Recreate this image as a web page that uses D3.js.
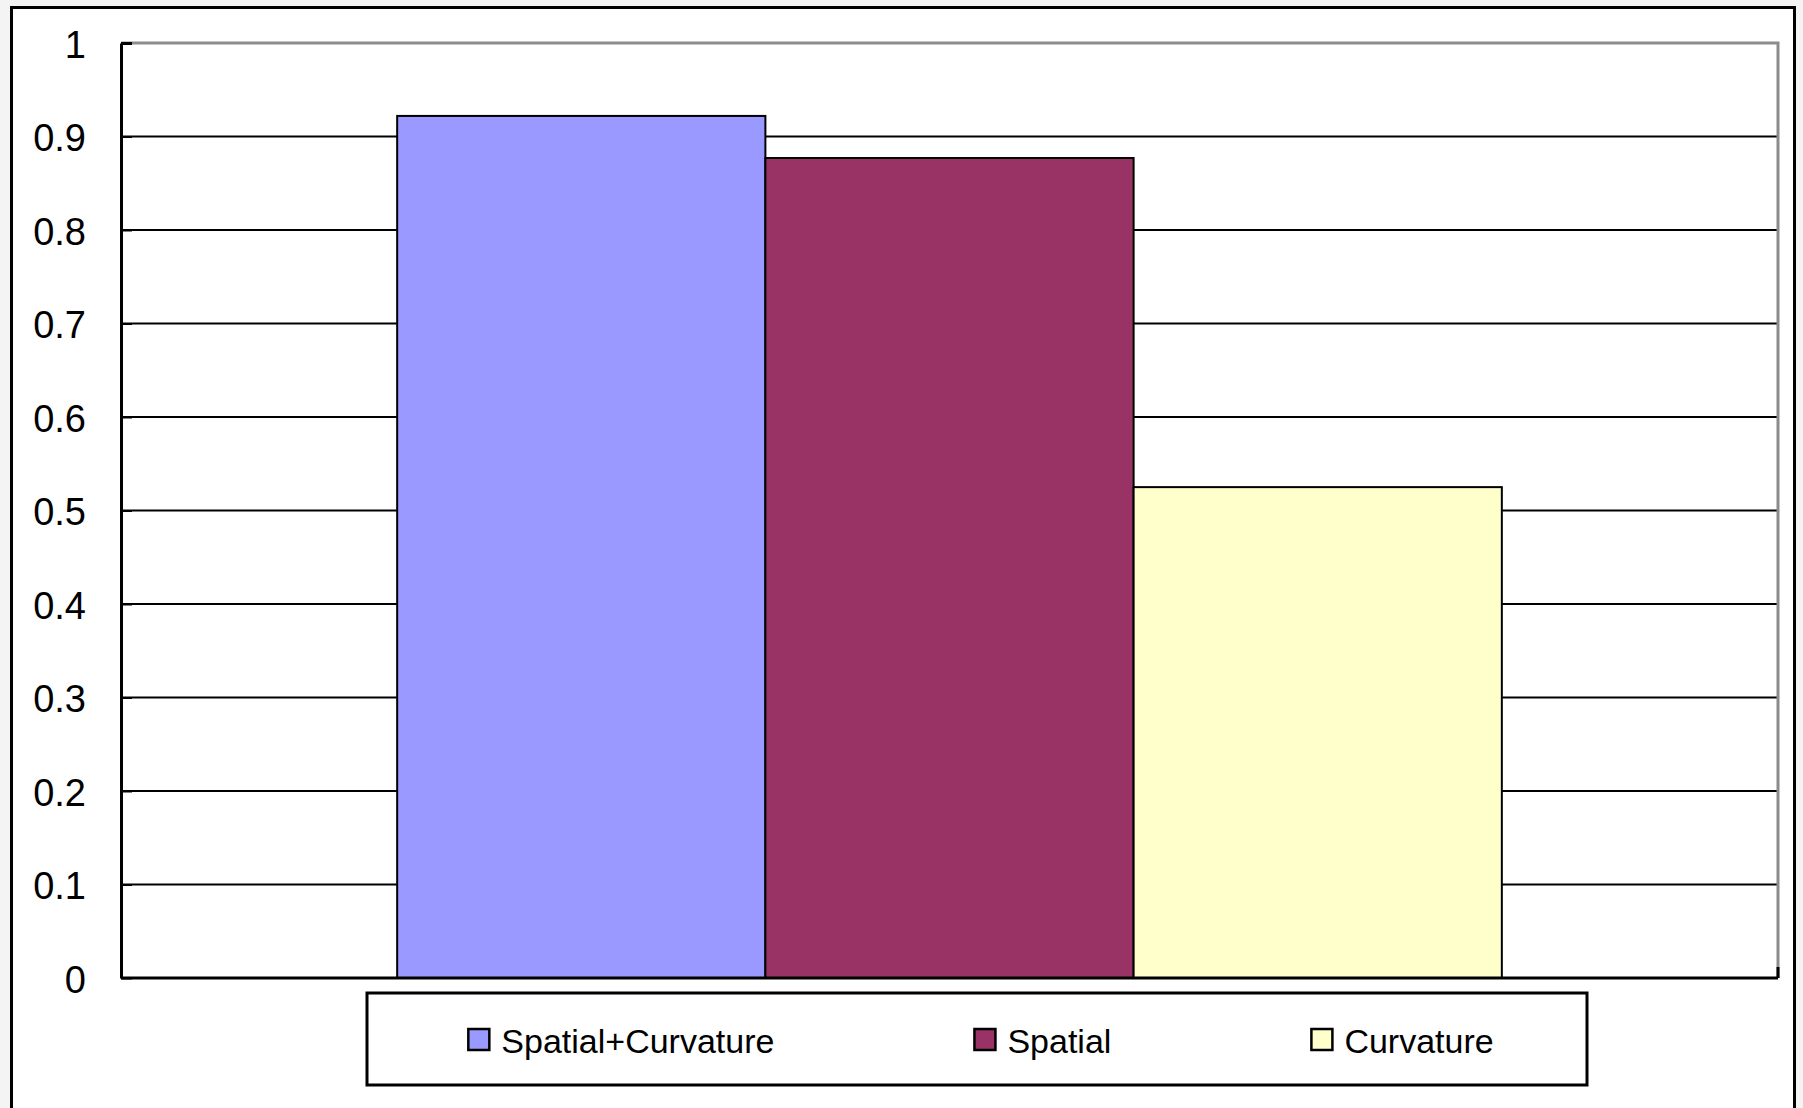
<!DOCTYPE html>
<html>
<head>
<meta charset="utf-8">
<script src="https://cdn.jsdelivr.net/npm/d3@7"></script>
<style>
  body { margin: 0; background: #f4f4f4; }
  svg { display: block; }
  text { font-family: "Liberation Sans", Arial, sans-serif; fill: #000; }
</style>
</head>
<body>
<svg width="1803" height="1108"></svg>
<script>
// ---- Dados
const series = ['Spatial+Curvature', 'Spatial', 'Curvature'];
const values = [0.922, 0.877, 0.525];
const colors = ['#9999FF', '#993366', '#FFFFCC'];
const yTicks = [0, 0.1, 0.2, 0.3, 0.4, 0.5, 0.6, 0.7, 0.8, 0.9, 1];

const svg = d3.select('svg');
const width = +svg.attr('width');
const height = +svg.attr('height');

const margens = { left: 121, right: 25, top: 43, bottom: 130 };
const innerWidth = width - margens.left - margens.right;
const innerHeight = height - margens.top - margens.bottom;

// ---- Moldura externa
svg.append('rect')
    .attr('x', 11.5).attr('y', 7.5)
    .attr('width', 1783).attr('height', 1120)
    .attr('fill', '#fff')
    .attr('stroke', '#000')
    .attr('stroke-width', 3);

const g = svg.append('g')
    .attr('transform', `translate(${margens.left}, ${margens.top})`);

// ---- Escalas
const mapX = d3.scaleBand()
    .domain(series)
    .range([0, innerWidth])
    .paddingInner(0)
    .paddingOuter(0.75);

const mapY = d3.scaleLinear()
    .domain([0, 1])
    .range([innerHeight, 0]);

// ---- Grade
g.selectAll('.grade')
    .data(yTicks.filter(d => d > 0 && d < 1))
    .enter()
    .append('line')
    .attr('x1', 0).attr('x2', innerWidth)
    .attr('y1', d => mapY(d)).attr('y2', d => mapY(d))
    .attr('stroke', '#000')
    .attr('stroke-width', 2);

// borda superior e direita (cinza)
g.append('path')
    .attr('d', `M0,${mapY(1)}H${innerWidth}V${innerHeight}`)
    .attr('fill', 'none')
    .attr('stroke', '#8c8c8c')
    .attr('stroke-width', 3);

// ---- Barras
g.selectAll('.barra')
    .data(values)
    .enter()
    .append('rect')
    .attr('class', 'barra')
    .attr('x', (d, i) => mapX(series[i]))
    .attr('y', d => mapY(d))
    .attr('width', mapX.bandwidth())
    .attr('height', d => innerHeight - mapY(d))
    .attr('fill', (d, i) => colors[i])
    .attr('stroke', '#000')
    .attr('stroke-width', 2);

// ---- Eixos
const eixoY = d3.axisLeft(mapY)
    .tickValues(yTicks)
    .tickSizeInner(-11)
    .tickSizeOuter(0)
    .tickPadding(35)
    .tickFormat(d3.format('~g'));

const gy = g.append('g').call(eixoY);
gy.select('.domain').attr('stroke-width', 3);
gy.selectAll('line').attr('stroke-width', d => d === 1 ? 3 : 2);
gy.selectAll('text')
    .attr('dy', '0.38em')
    .style('font-size', '38px')
    .style('font-family', '"Liberation Sans", Arial, sans-serif');

const gx = g.append('g')
    .attr('transform', `translate(0, ${innerHeight})`);
gx.append('line')
    .attr('x1', 0).attr('x2', innerWidth)
    .attr('y1', 0).attr('y2', 0)
    .attr('stroke', '#000').attr('stroke-width', 3);
gx.append('line')
    .attr('x1', innerWidth).attr('x2', innerWidth)
    .attr('y1', -11).attr('y2', 0)
    .attr('stroke', '#000').attr('stroke-width', 3);

// ---- Legenda
const legX = 367, legY = 993, legW = 1220, legH = 92;
svg.append('rect')
    .attr('x', legX).attr('y', legY)
    .attr('width', legW).attr('height', legH)
    .attr('fill', '#fff')
    .attr('stroke', '#000')
    .attr('stroke-width', 3);

const leg = svg.append('g');
const itens = leg.selectAll('.item')
    .data(series)
    .enter()
    .append('g');

itens.append('rect')
    .attr('width', 21).attr('height', 21)
    .attr('y', -10)
    .attr('fill', (d, i) => colors[i])
    .attr('stroke', '#000')
    .attr('stroke-width', 2.5);

itens.append('text')
    .attr('x', 33)
    .attr('dy', '0.42em')
    .style('font-size', '34px')
    .text(d => d);

const gap = 200;
const larguras = [];
itens.each(function () { larguras.push(this.getBBox().width); });
const total = d3.sum(larguras) + gap * (larguras.length - 1);
let cx = legX + (legW - total) / 2 + 4;
itens.attr('transform', (d, i) => {
    const t = `translate(${cx}, ${legY + legH / 2})`;
    cx += larguras[i] + gap;
    return t;
});
</script>
</body>
</html>
